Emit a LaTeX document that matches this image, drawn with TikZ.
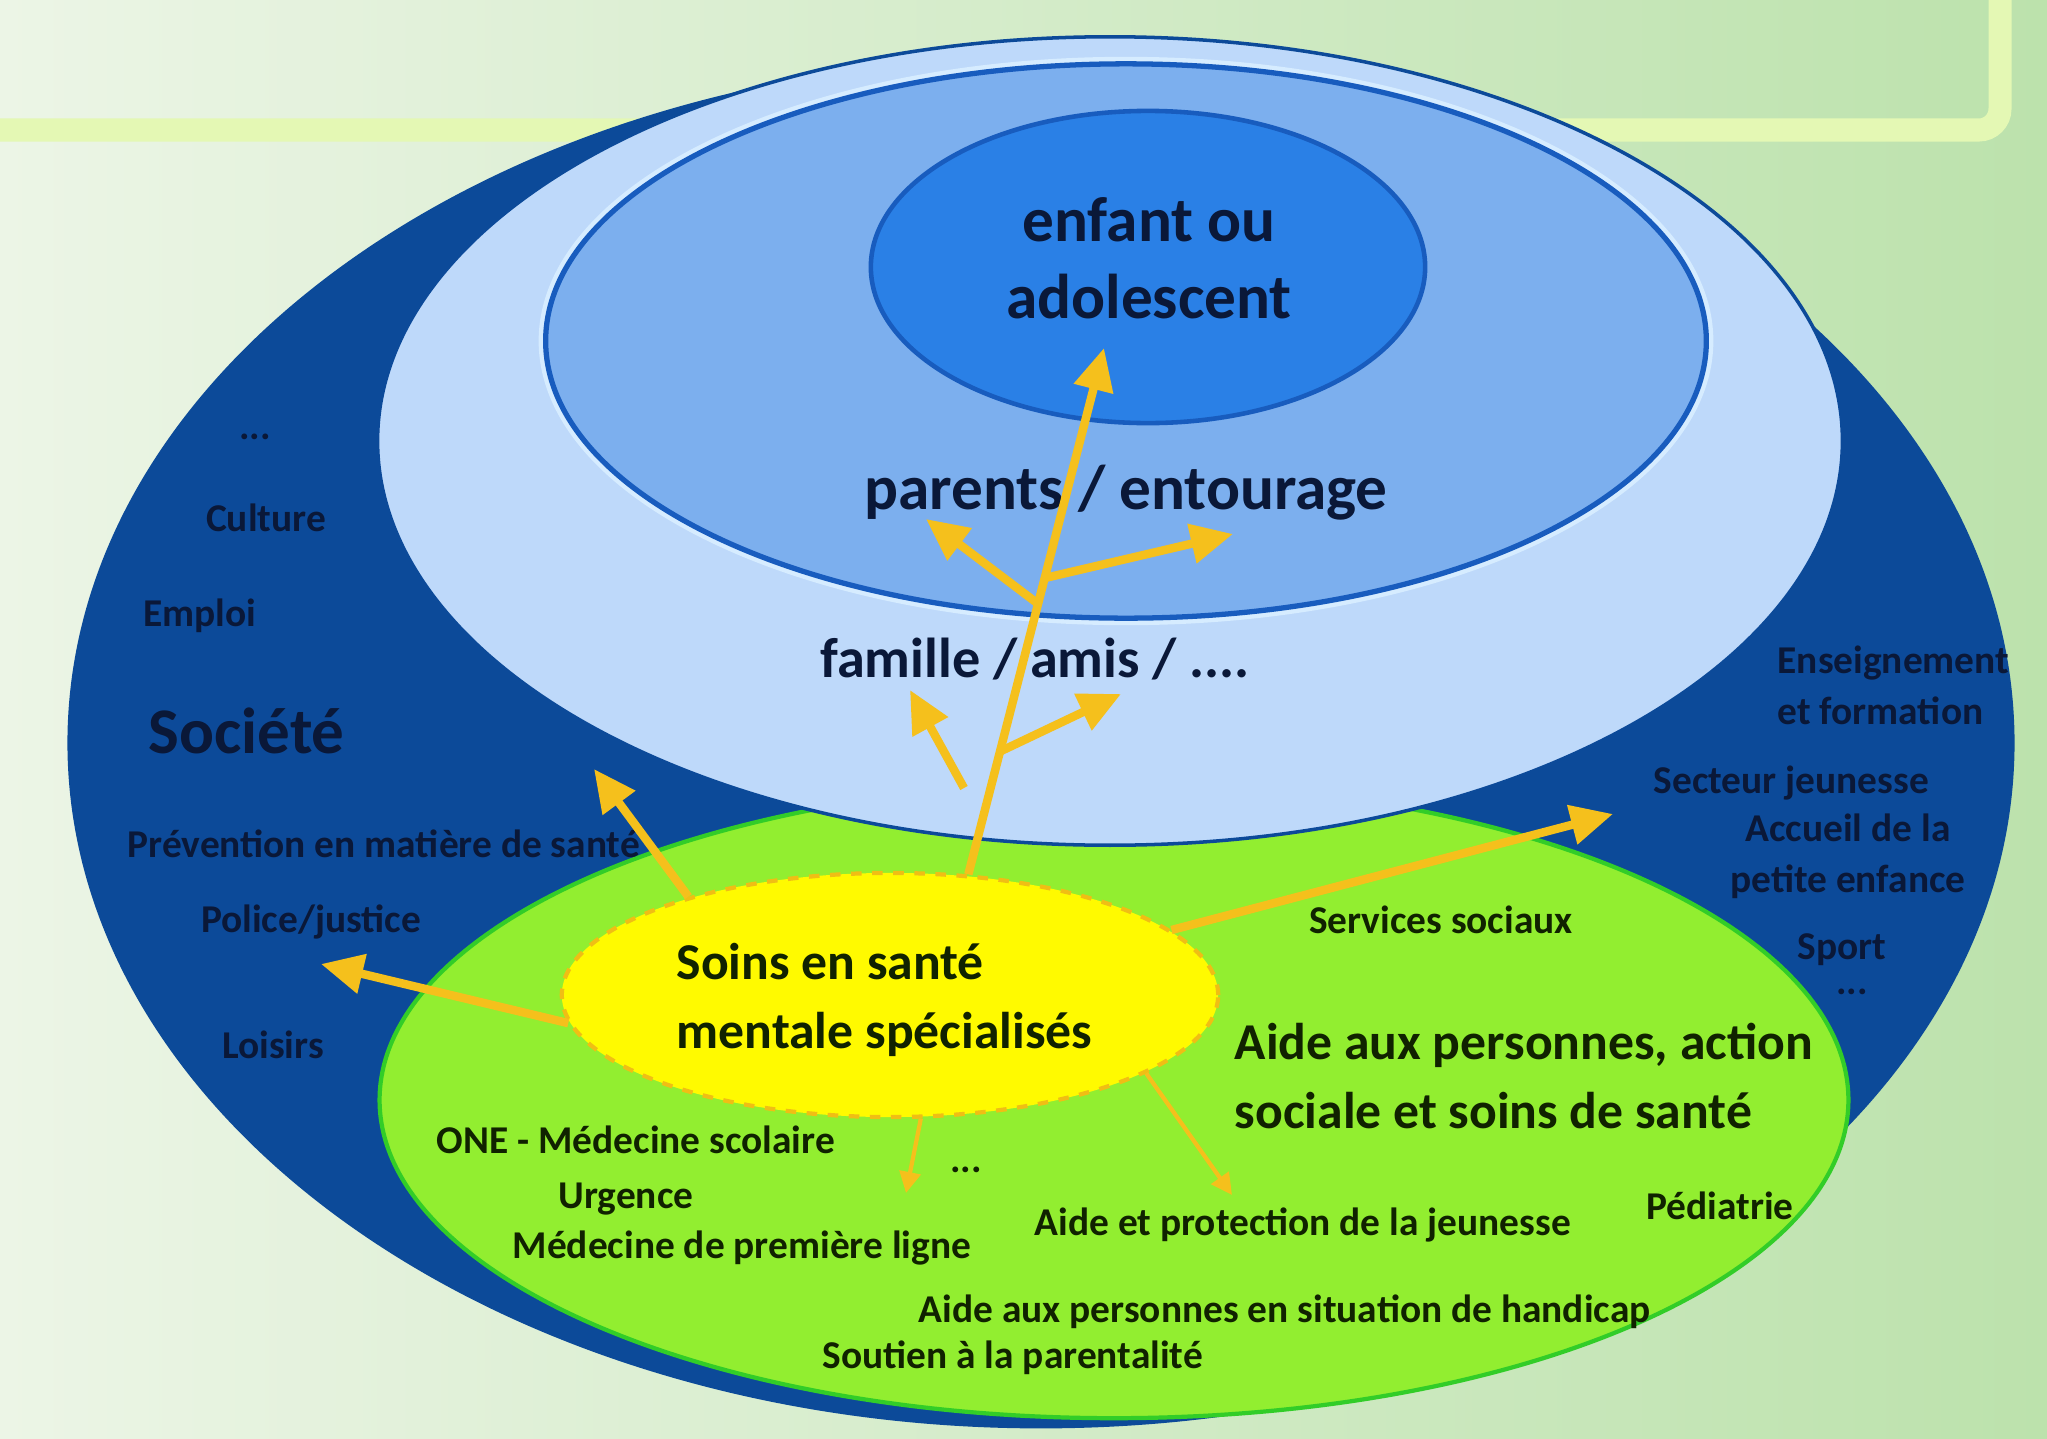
\documentclass[tikz,border=0pt]{standalone}
\usepackage{fontspec}
\setmainfont{Carlito}
\usetikzlibrary{shapes.geometric,arrows.meta}
\definecolor{bgleft}{RGB}{236,245,230}
\definecolor{bgright}{RGB}{188,226,172}
\definecolor{bandcol}{RGB}{228,248,180}
\definecolor{societecol}{RGB}{12,74,153}
\definecolor{famillecol}{RGB}{190,217,250}
\definecolor{parentscol}{RGB}{124,175,238}
\definecolor{enfantcol}{RGB}{42,128,230}
\definecolor{bordcol}{RGB}{24,92,190}
\definecolor{halocol}{RGB}{214,236,255}
\definecolor{aidecol}{RGB}{146,238,48}
\definecolor{aidebord}{RGB}{50,205,40}
\definecolor{soinscol}{RGB}{255,250,0}
\definecolor{soinsbord}{RGB}{240,190,20}
\definecolor{flechecol}{RGB}{245,192,28}
\definecolor{textbleu}{RGB}{10,24,56}
\definecolor{textvert}{RGB}{16,34,0}

\begin{document}
\begin{tikzpicture}[x=0.01cm,y=-0.01cm,
	zone/.style={ellipse,inner sep=0pt},
	fleche/.style={draw=flechecol,line width=2.4pt,-{Triangle[length=12pt,width=11pt]}},
	petitefleche/.style={draw=flechecol,line width=1.2pt,-{Triangle[length=6pt,width=6pt]}},
	grand/.style={font=\fontsize{18}{22}\selectfont\bfseries,text=textbleu,inner sep=0pt},
	moyen/.style={font=\fontsize{14.7}{19.5}\selectfont\bfseries,text=textvert,inner sep=0pt},
	petit/.style={font=\fontsize{11.2}{14.5}\selectfont\bfseries,text=textbleu,inner sep=0pt},
	petitvert/.style={petit,text=textvert}]

		\useasboundingbox (0,0) rectangle (2047,1439);
		\shade[left color=bgleft,right color=bgright] (0,0) rectangle (2047,1439);
		\draw[bandcol,line width=0.23cm,rounded corners=6pt] (-60,-60) rectangle (2000,130);

		\node[zone,minimum width=19.46cm,minimum height=13.7cm,fill=societecol] (societe) at (1041,743) {};
		\node[zone,minimum width=14.68cm,minimum height=6.36cm,fill=aidecol,draw=aidebord,line width=1.2pt] (aide) at (1114,1100) {};
		\node[zone,minimum width=14.64cm,minimum height=8.08cm,fill=famillecol,draw=societecol,line width=1pt] (famille) at (1110,441) {};
		\node[zone,minimum width=11.6cm,minimum height=5.54cm,fill=parentscol,draw=bordcol,line width=1.5pt,preaction={draw=halocol,line width=4pt}] (parents) at (1126,341) {};
		\node[zone,minimum width=5.54cm,minimum height=3.12cm,fill=enfantcol,draw=bordcol,line width=1.3pt] (enfant) at (1148,267) {};
		\node[zone,minimum width=6.56cm,minimum height=2.44cm,fill=soinscol,draw=soinsbord,dashed,line width=1.2pt] (soins) at (890,995) {};

		\node[grand,align=center] (lEnfant) at (1149,258) {enfant ou\\adolescent};
		\node[grand] (lParents) at (1126,493) {parents / entourage};
		\node[grand,font=\fontsize{16}{19}\selectfont\bfseries] (lFamille) at (1035,659) {famille / amis / ....};
		\node[grand,font=\fontsize{18.5}{22}\selectfont\bfseries,anchor=west] (lSociete) at (148,731) {Société};

		\node[petit] (lPoints1) at (255,437) {...};
		\node[petit] (lCulture) at (266,518) {Culture};
		\node[petit] (lEmploi) at (200,616) {Emploi};
		\node[petit,anchor=west] (lPrevention) at (127,844) {Prévention en matière de santé};
		\node[petit] (lPolice) at (311,922) {Police/justice};
		\node[petit] (lLoisirs) at (273,1045) {Loisirs};
		\node[petit,anchor=west,align=left] (lEnseignement) at (1777,685) {Enseignement\\et formation};
		\node[petit,anchor=west] (lSecteur) at (1653,783) {Secteur jeunesse};
		\node[petit,align=center] (lAccueil) at (1848,856) {Accueil de la\\petite enfance};
		\node[petit] (lSport) at (1842,950) {Sport};
		\node[petit] (lPoints2) at (1852,992) {...};

		\node[petitvert] (lServices) at (1441,920) {Services sociaux};
		\node[moyen,anchor=west,align=left] (lSoins) at (676,1000) {Soins en santé\\mentale spécialisés};
		\node[moyen,anchor=west,align=left] (lAide) at (1234,1076) {Aide aux personnes, action\\sociale et soins de santé};
		\node[petitvert,anchor=west] (lOne) at (436,1140) {ONE - Médecine scolaire};
		\node[petitvert] (lUrgence) at (626,1199) {Urgence};
		\node[petitvert,anchor=west] (lMedecine) at (512,1248) {Médecine de première ligne};
		\node[petitvert] (lPoints3) at (966,1170) {...};
		\node[petitvert,anchor=west] (lProtection) at (1034,1225) {Aide et protection de la jeunesse};
		\node[petitvert] (lPediatrie) at (1720,1206) {Pédiatrie};
		\node[petitvert,anchor=west] (lHandicap) at (918,1312) {Aide aux personnes en situation de handicap};
		\node[petitvert,anchor=west] (lSoutien) at (822,1358) {Soutien à la parentalité};

		\coordinate (tipEnfant) at (1104,348);
		\coordinate (forkPar1) at (1037,603);
		\coordinate (tipPar1) at (926,519);
		\coordinate (forkPar2) at (1045,578);
		\coordinate (tipPar2) at (1233,534);
		\coordinate (baseFam1) at (964,788);
		\coordinate (tipFam1) at (910,690);
		\coordinate (forkFam2) at (999,752);
		\coordinate (tipFam2) at (1121,694);
		\coordinate (tipSante) at (594,769);
		\coordinate (tipPolice) at (321,964);
		\coordinate (tipJeunesse) at (1613,814);
		\coordinate (tipBas) at (906,1193);
		\coordinate (tipAide) at (1232,1195);

		\draw[fleche] (soins.57)--(tipEnfant);
		\draw[fleche] (forkPar1)--(tipPar1);
		\draw[fleche] (forkPar2)--(tipPar2);
		\draw[fleche] (baseFam1)--(tipFam1);
		\draw[fleche] (forkFam2)--(tipFam2);
		\draw[fleche] (soins.154)--(tipSante);
		\draw[fleche] (soins.185)--(tipPolice);
		\draw[fleche] (soins.13)--(tipJeunesse);
		\draw[petitefleche] (soins.-76)--(tipBas);
		\draw[petitefleche] (soins.-17)--(tipAide);

	\end{tikzpicture}
\end{document}
